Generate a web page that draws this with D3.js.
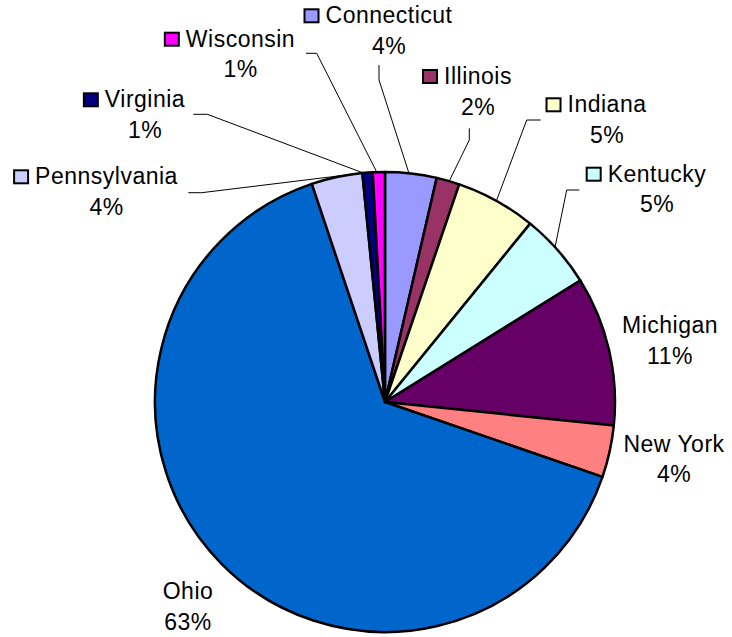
<!DOCTYPE html>
<html>
<head>
<meta charset="utf-8">
<script src="https://cdn.jsdelivr.net/npm/d3@7"></script>
<style>
  html, body { margin: 0; padding: 0; background: #fff; }
  svg { display: block; }
  text { font-family: Arial, "Liberation Sans", sans-serif; fill: #000; }
</style>
</head>
<body>
<svg id="chart" width="732" height="637"></svg>
<script>
// ---- data ----
const states = ["Connecticut", "Illinois", "Indiana", "Kentucky", "Michigan",
                "New York", "Ohio", "Pennsylvania", "Virginia", "Wisconsin"];
const shares = [3.61, 1.62, 5.64, 5.27, 10.49, 3.64, 64.57, 3.58, 0.72, 0.85];
const percentLabels = ["4%", "2%", "5%", "5%", "11%", "4%", "63%", "4%", "1%", "1%"];
const colors = ["#9999FF", "#993366", "#FFFFCC", "#CCFFFF", "#660066",
                "#FF8080", "#0066CC", "#CCCCFF", "#000080", "#FF00FF"];

// ---- layout (label placement) ----
const cx = 385, cy = 402, R = 230;
const fontSize = 23, lineGap = 30.5;
const labelLayout = {
  "Connecticut":  { x: 389, y: 23.3,  key: true,  lead: [[379, 65], [379, 80]],       t: 0.46 },
  "Illinois":     { x: 478, y: 84,    key: true,  lead: [[469.3, 128.3], [469.3, 140]], t: 0.55 },
  "Indiana":      { x: 607, y: 112.3, key: true,  lead: [[540.7, 120], [526.7, 120]],   t: 0.5 },
  "Kentucky":     { x: 657, y: 181.7, key: true,  lead: [[579.3, 190], [566.7, 190]],   t: 0.45 },
  "Michigan":     { x: 670, y: 333.3, key: false, lead: null },
  "New York":     { x: 674, y: 451.7, key: false, lead: null },
  "Ohio":         { x: 188, y: 599,   key: false, lead: null },
  "Pennsylvania": { x: 106.5, y: 184.3, key: true, lead: [[188.3, 192.7], [201.7, 192.7]], t: 0.9 },
  "Virginia":     { x: 145, y: 107.3, key: true,  lead: [[193.3, 114.3], [207.3, 114.3]], t: 0.1 },
  "Wisconsin":    { x: 240.5, y: 46.7, key: true, lead: [[306, 53.3], [316.7, 53.3]],   t: 0.33 }
};

const data = states.map((s, i) => ({ name: s, value: shares[i], pct: percentLabels[i], color: colors[i] }));

const svg = d3.select("#chart");

const pie = d3.pie().value(d => d.value).sort(null).startAngle(0).endAngle(2 * Math.PI);
const arcs = pie(data);
const arc = d3.arc().innerRadius(0).outerRadius(R);

const g = svg.append("g").attr("transform", `translate(${cx},${cy})`);

// leader lines (drawn first, beneath slices' border)
const leaders = svg.append("g");
arcs.forEach(a => {
  const L = labelLayout[a.data.name];
  if (!L.lead) return;
  const ang = a.startAngle + (a.endAngle - a.startAngle) * L.t;
  const ex = cx + R * Math.sin(ang), ey = cy - R * Math.cos(ang);
  const pts = L.lead.concat([[ex, ey]]);
  leaders.append("path")
    .attr("d", d3.line()(pts))
    .attr("fill", "none")
    .attr("stroke", "#000")
    .attr("stroke-width", 1);
});

g.selectAll("path.slice")
  .data(arcs)
  .join("path")
  .attr("class", "slice")
  .attr("d", arc)
  .attr("fill", d => d.data.color)
  .attr("stroke", "#000")
  .attr("stroke-width", 2.5)
  .attr("stroke-linejoin", "round");

// labels
const labels = svg.append("g");
arcs.forEach(a => {
  const L = labelLayout[a.data.name];
  const name = labels.append("text")
    .attr("x", L.x).attr("y", L.y)
    .attr("text-anchor", "middle")
    .attr("font-size", fontSize)
    .attr("letter-spacing", "0.5px")
    .text(a.data.name);
  labels.append("text")
    .attr("x", L.x).attr("y", L.y + lineGap)
    .attr("text-anchor", "middle")
    .attr("font-size", fontSize)
    .attr("letter-spacing", "0.5px")
    .text(a.data.pct);
  if (L.key) {
    const w = name.node().getComputedTextLength();
    const left = L.x - w / 2;
    labels.append("rect")
      .attr("x", left - 6 - 16 + 1).attr("y", L.y - 15 + 1)
      .attr("width", 14).attr("height", 13)
      .attr("fill", a.data.color)
      .attr("stroke", "#000")
      .attr("stroke-width", 2);
  }
});
</script>
</body>
</html>
